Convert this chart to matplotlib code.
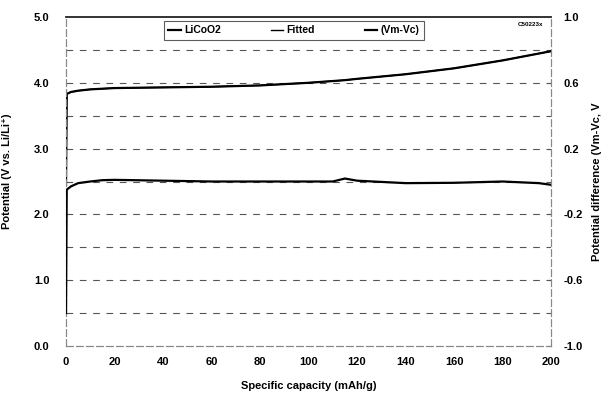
import matplotlib
matplotlib.use("Agg")
import matplotlib.pyplot as plt
import numpy as np

# Data
cap_licoo2 = [0, 0.3, 2, 5, 10, 20, 40, 60, 80, 100, 115, 120, 140, 160, 180, 200]
pot_licoo2 = [2.45, 3.83, 3.86, 3.88, 3.90, 3.92, 3.93, 3.94, 3.96, 4.00, 4.04, 4.06, 4.13, 4.22, 4.34, 4.48]

cap_fitted = cap_licoo2
pot_fitted = pot_licoo2

cap_diff = [0, 0.3, 2, 5, 10, 15, 20, 40, 60, 80, 100, 110, 115, 120, 140, 160, 180, 195, 200]
diff_vals = [-0.80, -0.05, -0.03, -0.01, 0.0, 0.008, 0.01, 0.005, 0.0, 0.0, 0.0, 0.0, 0.018, 0.005, -0.01, -0.008, 0.0, -0.01, -0.02]

left_ticks = [0.0, 1.0, 2.0, 3.0, 4.0, 5.0]
right_ticks = [-1.0, -0.6, -0.2, 0.2, 0.6, 1.0]
x_ticks = [0, 20, 40, 60, 80, 100, 120, 140, 160, 180, 200]

plt.rcParams['font.family'] = ['Liberation Sans', 'DejaVu Sans']
plt.rcParams['font.weight'] = 'bold'

fig = plt.figure(figsize=(6.01, 3.99), dpi=100)
ax = fig.add_axes([66/601, 53/399, 485/601, 329/399])
ax2 = ax.twinx()

ax.set_xlim(0, 200)
ax.set_ylim(0, 5)
ax2.set_ylim(-1, 1)

# Grid lines
for g in np.arange(0.5, 5.0, 0.5):
    ax.axhline(g, color='#555555', lw=0.8, ls=(0, (6, 6)), zorder=1)

l1, = ax.plot(cap_licoo2, pot_licoo2, color='black', lw=1.6, label='LiCoO2', zorder=3)
l2, = ax.plot(cap_fitted, pot_fitted, color='black', lw=1.0, label='Fitted', zorder=3)
l3, = ax2.plot(cap_diff, diff_vals, color='black', lw=1.6, label='(Vm-Vc)', zorder=3)

for a in (ax, ax2):
    for spine in ['left', 'right', 'bottom']:
        a.spines[spine].set_color('#888888')
        a.spines[spine].set_linestyle((0, (6, 3)))
        a.spines[spine].set_linewidth(0.8)
    a.spines['top'].set_color('#333333')
    a.spines['top'].set_linewidth(1.2)

ax.set_xticks(x_ticks)
ax.set_yticks(left_ticks)
ax.set_yticklabels([f"{v:.1f}" for v in left_ticks])
ax2.set_yticks(right_ticks)
ax2.set_yticklabels([f"{v:.1f}" for v in right_ticks])

ax.tick_params(axis='x', length=0, labelsize=8, pad=8)
ax.tick_params(axis='y', length=0, labelsize=8, pad=12)
ax2.tick_params(axis='y', direction='in', length=3, color='#555555', labelsize=8, pad=9)

ax.set_xlabel('Specific capacity (mAh/g)', fontsize=8, fontweight='bold', labelpad=10)
ax.set_ylabel('Potential (V vs. Li/Li⁺)', fontsize=8, fontweight='bold')
ax2.set_ylabel('Potential difference (Vm-Vc, V', fontsize=8, fontweight='bold')
ax.yaxis.set_label_coords(-0.112, 0.53)
ax2.yaxis.set_label_coords(1.085, 0.5)

leg = ax.legend(handles=[l1, l2, l3], ncol=3, loc='upper center',
                bbox_to_anchor=(0.47, 1.005), fontsize=7.5, frameon=True,
                fancybox=False, edgecolor='#333333', handlelength=1.2,
                handletextpad=0.3, columnspacing=4.8, borderpad=0.45)
leg.get_frame().set_linewidth(0.8)
for t in leg.get_texts():
    t.set_fontweight('bold')

ax.text(0.985, 0.985, 'C50223x', transform=ax.transAxes, fontsize=4.5,
        ha='right', va='top')

fig.savefig('out.png', dpi=100)
